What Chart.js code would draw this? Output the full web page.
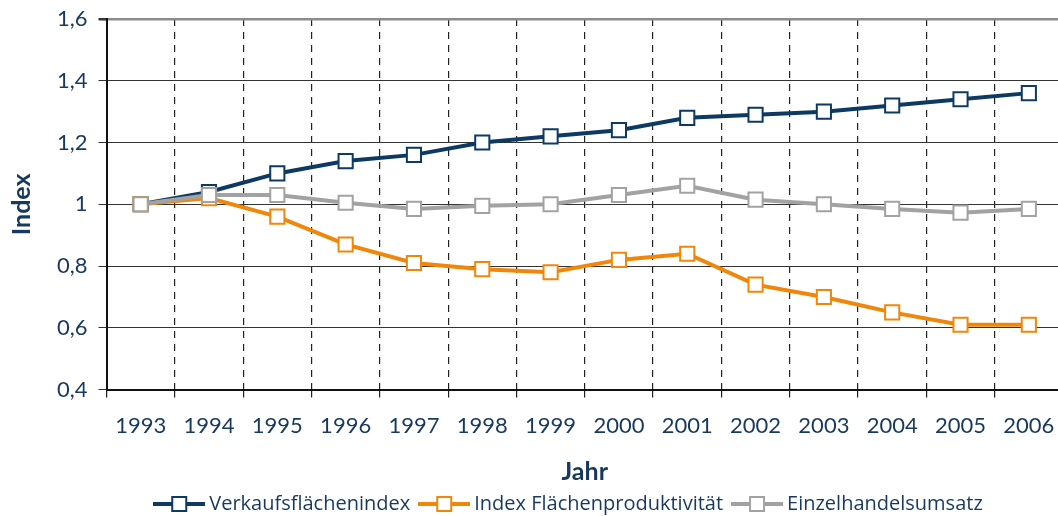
<!DOCTYPE html>
<html>
<head>
<meta charset="utf-8">
<script src="https://cdn.jsdelivr.net/npm/chart.js@4/dist/chart.umd.min.js"></script>
<style>
  html, body { margin: 0; padding: 0; background: #fff; overflow: hidden; }
  #wrap { width: 1135px; height: 516px; }
</style>
</head>
<body>
<div id="wrap"><canvas id="chart"></canvas></div>
<script>
const years = ['1993','1994','1995','1996','1997','1998','1999','2000','2001','2002','2003','2004','2005','2006'];
const verkaufsflaeche = [1.00,1.04,1.10,1.14,1.16,1.20,1.22,1.24,1.28,1.29,1.30,1.32,1.34,1.36];
const produktivitaet = [1.00,1.02,0.96,0.87,0.81,0.79,0.78,0.82,0.84,0.74,0.70,0.65,0.61,0.61];
const umsatz = [1.00,1.03,1.03,1.005,0.985,0.995,1.00,1.03,1.06,1.015,1.00,0.985,0.973,0.985];
const yMin = 0.4, yMax = 1.6, yStep = 0.2;

const navy = '#0d3a63';
const orange = '#f0870b';
const grey = '#a2a2a2';
const textBlue = '#17395e';

Chart.defaults.font.family = "Lato, 'Open Sans', sans-serif";
Chart.defaults.color = textBlue;

// legend marker: short line with a hollow square in the middle
function legendIcon(color) {
  const c = document.createElement('canvas');
  c.width = 52; c.height = 18;
  const g = c.getContext('2d');
  g.strokeStyle = color;
  g.lineWidth = 4;
  g.beginPath(); g.moveTo(0, 9); g.lineTo(52, 9); g.stroke();
  g.fillStyle = '#fff';
  g.fillRect(19, 2, 14, 14);
  g.lineWidth = 2;
  g.strokeRect(19, 2, 14, 14);
  return c;
}

function series(label, data, color, order) {
  return {
    label, data, order,
    borderColor: color,
    borderWidth: 4,
    pointStyle: 'rect',
    pointRadius: 10,
    pointBorderWidth: 2,
    pointBorderColor: color,
    pointBackgroundColor: '#fff',
    tension: 0
  };
}

const datasets = [
  series('Verkaufsflächenindex', verkaufsflaeche, navy, 3),
  series('Index Flächenproduktivität', produktivitaet, orange, 2),
  series('Einzelhandelsumsatz', umsatz, grey, 1)
];
const icons = datasets.map(d => legendIcon(d.borderColor));

new Chart(document.getElementById('chart'), {
  type: 'line',
  data: { labels: years, datasets },
  options: {
    responsive: true,
    maintainAspectRatio: false,
    animation: false,
    layout: { padding: { left: 7, top: 0, right: 0, bottom: -8 } },
    plugins: {
      tooltip: { enabled: false },
      legend: {
        position: 'bottom',
        labels: {
          usePointStyle: true,
          pointStyleWidth: 40,
          padding: 14,
          color: textBlue,
          font: { size: 20, family: "'Open Sans', sans-serif" },
          generateLabels: chart => chart.data.datasets.map((ds, i) => ({
            text: ds.label,
            datasetIndex: i,
            pointStyle: icons[i],
            fillStyle: ds.borderColor,
            strokeStyle: ds.borderColor,
            lineWidth: 0,
            hidden: false,
            fontColor: textBlue
          }))
        }
      }
    },
    scales: {
      x: {
        type: 'category',
        offset: true,
        grid: {
          offset: true,
          color: '#222',
          lineWidth: 1.2,
          tickLength: 8,
          tickColor: '#222',
          tickBorderDash: []
        },
        border: { display: true, color: '#111', width: 2, dash: [7, 6] },
        ticks: { color: textBlue, font: { size: 22 }, padding: 15, maxRotation: 0, autoSkip: false },
        title: {
          display: true,
          text: 'Jahr',
          color: textBlue,
          font: { size: 25, weight: 'bold' },
          padding: { top: 3, bottom: -7 }
        }
      },
      y: {
        min: yMin,
        max: yMax,
        afterFit: s => { s.paddingTop = 19; },
        grid: {
          color: c => (c.tick && c.tick.value > 1.59) ? '#8c8c8c' : '#333',
          lineWidth: c => (c.tick && c.tick.value > 1.59) ? 2.5 : 1,
          tickLength: 8,
          tickColor: '#333'
        },
        border: { display: true, color: '#111', width: 2 },
        ticks: {
          stepSize: yStep,
          color: textBlue,
          font: { size: 22 },
          padding: 11,
          callback: v => String(Math.round(v * 10) / 10).replace('.', ',')
        },
        title: {
          display: true,
          text: 'Index',
          color: textBlue,
          font: { size: 25, weight: 'bold' },
          padding: { top: 0, bottom: 9 }
        }
      },
      // empty right-hand spacer so the plot runs past the window edge as in the original
      spacer: {
        position: 'right',
        display: true,
        grid: { display: false },
        border: { display: false },
        ticks: { display: false },
        afterFit: s => { s.width = 72; }
      }
    }
  }
});
</script>
</body>
</html>
